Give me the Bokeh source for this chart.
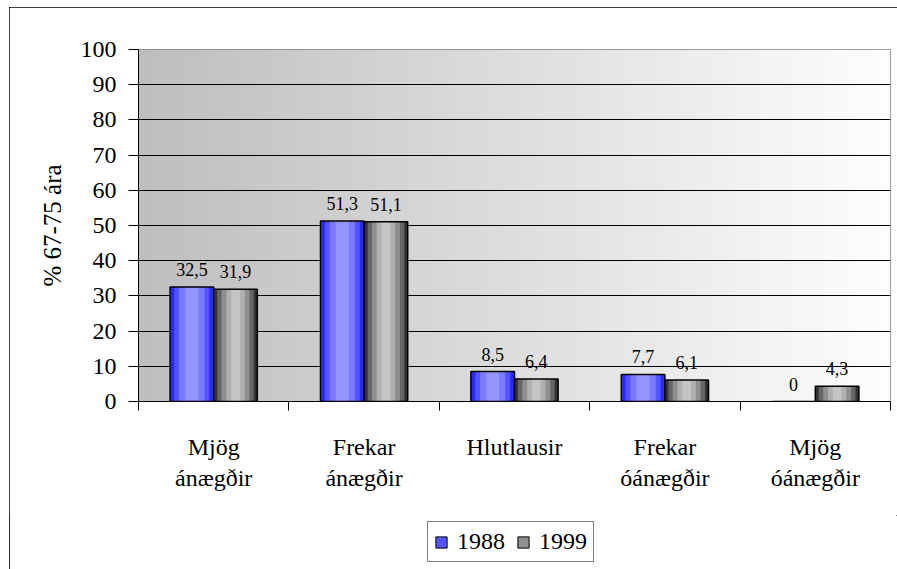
import numpy as np
from bokeh.plotting import figure
from bokeh.layouts import column
from bokeh.models import (Range1d, FixedTicker, Legend, LegendItem, ColumnDataSource)
from bokeh.core.properties import value
from bokeh.embed import file_html
from bokeh.resources import INLINE

# ---- data ----
categories = ["Mjög\nánægðir", "Frekar\nánægðir", "Hlutlausir", "Frekar\nóánægðir", "Mjög\nóánægðir"]
series_names = ["1988", "1999"]
values_1988 = [32.5, 51.3, 8.5, 7.7, 0.0]
values_1999 = [31.9, 51.1, 6.4, 6.1, 4.3]
y_ticks = [0, 10, 20, 30, 40, 50, 60, 70, 80, 90, 100]
y_label = "% 67-75 ára"

FONT = "Times New Roman"

p = figure(width=888, height=508, output_backend="svg", toolbar_location=None,
           x_range=Range1d(-0.5, 4.5), y_range=Range1d(0, 100),
           min_border_left=129, min_border_right=7, min_border_top=42,
           min_border_bottom=114)
p.background_fill_color = "white"
p.border_fill_color = "white"
p.outline_line_color = "#808080"
p.outline_line_width = 1

# background gradient (grey -> white)
N = 240
img = np.zeros((1, N), dtype=np.uint32)
view = img.view(dtype=np.uint8).reshape((1, N, 4))
g = np.linspace(190, 254, N).astype(np.uint8)
view[0, :, 0] = g
view[0, :, 1] = g
view[0, :, 2] = g
view[0, :, 3] = 255
p.image_rgba(image=[img], x=-0.5, y=0, dw=5, dh=100, level="image")

# grid
p.xgrid.visible = False
p.ygrid.ticker = FixedTicker(ticks=y_ticks[1:-1])
p.ygrid.grid_line_color = "black"
p.ygrid.grid_line_width = 1

# y axis
p.yaxis.ticker = FixedTicker(ticks=y_ticks)
p.yaxis.major_label_text_font = FONT
p.yaxis.major_label_text_font_size = "24px"
p.yaxis.major_label_text_color = "black"
p.yaxis.major_tick_out = 10
p.yaxis.major_tick_in = 0
p.yaxis.minor_tick_line_color = None
p.yaxis.major_label_standoff = 12
p.yaxis.axis_line_color = "black"
p.yaxis.major_tick_line_color = "black"
p.yaxis.axis_label = y_label
p.yaxis.axis_label_text_font = FONT
p.yaxis.axis_label_text_font_size = "25px"
p.yaxis.axis_label_text_font_style = "normal"
p.yaxis.axis_label_text_color = "black"
p.yaxis.axis_label_standoff = 12

# x axis
xs = list(range(len(categories)))
p.xaxis.ticker = FixedTicker(ticks=xs, minor_ticks=[i - 0.5 for i in range(len(categories) + 1)])
p.xaxis.major_label_overrides = {i: c for i, c in enumerate(categories)}
p.xaxis.major_tick_line_color = None
p.xaxis.major_tick_out = 0
p.xaxis.major_tick_in = 0
p.xaxis.minor_tick_out = 9
p.xaxis.minor_tick_in = 0
p.xaxis.minor_tick_line_color = "black"
p.xaxis.axis_line_color = "black"
p.xaxis.major_label_text_font = FONT
p.xaxis.major_label_text_font_size = "24px"
p.xaxis.major_label_text_color = "black"
p.xaxis.major_label_standoff = 23

# bars with cylinder-like shading
bw = 0.29
off = 0.145
blue_layers = [(1.0, "#2a2aff"), (0.8, "#5353ff"), (0.58, "#7b7bff"), (0.3, "#9494ff")]
grey_layers = [(1.0, "#333333"), (0.84, "#666666"), (0.64, "#8f8f8f"), (0.42, "#b0b0b0"), (0.2, "#c4c4c4")]

src88 = ColumnDataSource(dict(x=[i - off for i in xs], top=values_1988,
                              lab=[("%g" % v).replace(".", ",") for v in values_1988]))
src99 = ColumnDataSource(dict(x=[i + off for i in xs], top=values_1999,
                              lab=[("%g" % v).replace(".", ",") for v in values_1999]))

def draw(fig, src, layers):
    for frac, col in layers:
        fig.vbar(x="x", top="top", bottom=0, width=bw * frac, source=src,
                 fill_color=col, line_color=None)
    fig.vbar(x="x", top="top", bottom=0, width=bw, source=src,
             fill_color=None, line_color="black", line_width=1.5)

draw(p, src88, blue_layers)
draw(p, src99, grey_layers)

for src in (src88, src99):
    p.text(x="x", y="top", text="lab", source=src, text_align="center",
           text_baseline="bottom", y_offset=-11, text_font=value(FONT),
           text_font_size="18px", text_color="black")

# legend strip below the chart
lf = figure(width=888, height=54, output_backend="svg", toolbar_location=None,
            x_range=Range1d(0, 1), y_range=Range1d(0, 1),
            x_axis_type=None, y_axis_type=None, min_border=0)
lf.frame_align = False
lf.outline_line_color = None
lf.background_fill_color = "white"
lf.border_fill_color = "white"
sw88 = lf.vbar(x=[-5], top=[1], width=1, fill_color=blue_layers[1][1], line_color="black")
sw99 = lf.vbar(x=[-5], top=[1], width=1, fill_color=grey_layers[2][1], line_color="black")
legend = Legend(items=[LegendItem(label=series_names[0], renderers=[sw88]),
                       LegendItem(label=series_names[1], renderers=[sw99])],
                orientation="horizontal", location=(418, 7))
legend.label_text_font = FONT
legend.label_text_font_size = "24px"
legend.label_text_color = "black"
legend.glyph_width = 14
legend.glyph_height = 14
legend.label_standoff = 9
legend.spacing = 11
legend.padding = 6
legend.margin = 0
legend.border_line_color = "black"
legend.border_line_width = 1
legend.background_fill_color = "white"
legend.background_fill_alpha = 1
lf.add_layout(legend, "center")

layout = column(p, lf, spacing=0)
layout.styles = {"outline": "1px solid #000", "outline-offset": "-1px",
                 "margin-left": "9px", "margin-top": "7px"}

open("out.html", "w").write(file_html(layout, INLINE))
